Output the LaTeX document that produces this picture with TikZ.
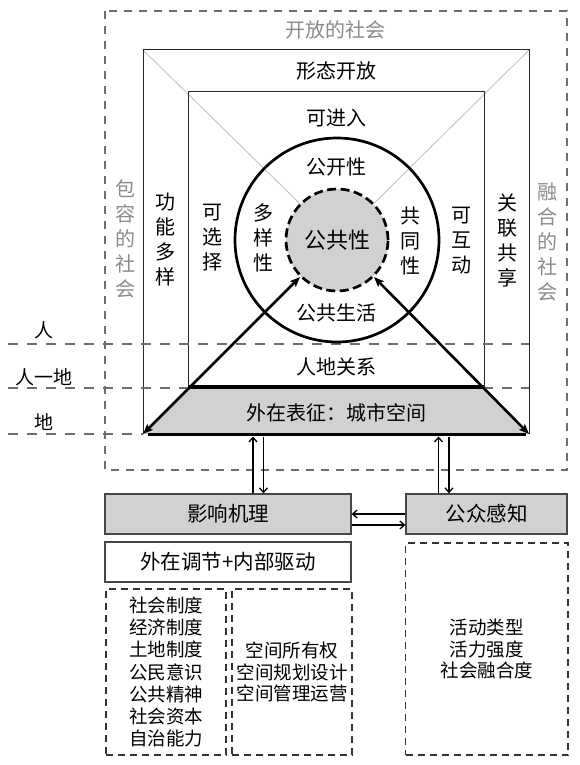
\documentclass[tikz,border=0pt]{standalone}
\usepackage{fontspec}
\setmainfont{Noto Sans CJK SC}
\usetikzlibrary{arrows.meta,calc}
\definecolor{fillg}{RGB}{208,209,211}
\definecolor{labg}{RGB}{138,138,138}
\definecolor{boxline}{RGB}{70,70,70}
\definecolor{diagc}{RGB}{190,190,190}
\definecolor{dashg}{RGB}{110,110,110}
\begin{document}
\begin{tikzpicture}[x=1pt,y=-1pt,
  txt/.style={inner sep=0pt, font=\fontsize{20}{24}\selectfont},
  gtxt/.style={txt, text=labg},
  vtxt/.style={inner sep=0pt, align=center, font=\fontsize{20}{25}\selectfont},
  gvtxt/.style={vtxt, text=labg},
  sidetxt/.style={inner sep=0pt, font=\fontsize{19}{24}\selectfont},
  sqline/.style={draw=black!85, line width=1pt},
  diagline/.style={draw=diagc, line width=0.8pt},
  levelline/.style={draw=dashg, line width=1.2pt, dash pattern=on 10pt off 9pt},
  thickarrow/.style={line width=2.6pt, {Stealth[length=10pt,width=8pt,inset=2pt]}-{Stealth[length=10pt,width=8pt,inset=2pt]}},
  thinarrow/.style={line width=1.3pt, -{Straight Barb[length=4.5pt,width=8pt]}},
  gbox/.style={draw=boxline, line width=1.3pt, fill=fillg, inner sep=0pt, font=\fontsize{20.5}{24}\selectfont},
  wbox/.style={draw=boxline, line width=1.3pt, fill=white, inner sep=0pt, font=\fontsize{20.5}{24}\selectfont},
  dbox/.style={draw=black!80, line width=1.2pt, dash pattern=on 7pt off 5pt, inner sep=0pt, align=center, font=\fontsize{18.5}{22.2}\selectfont}
]
\useasboundingbox (0,0) rectangle (579,765);

% outer dashed region
\draw[draw=dashg, line width=1.1pt, dash pattern=on 8pt off 7pt] (105,11) rectangle (567,470);
\node[gtxt] (kfsh) at (335,30) {开放的社会};

% named corner coordinates
\coordinate (ctr) at (337,240);
\coordinate (otl) at (143,50);
\coordinate (otr) at (529,50);
\coordinate (obl) at (143,434);
\coordinate (obr) at (529,434);
\coordinate (itl) at (188,92);
\coordinate (itr) at (484,92);
\coordinate (ibl) at (188,387);
\coordinate (ibr) at (484,387);

% diagonals
\draw[diagline] (otl) -- (ctr);
\draw[diagline] (otr) -- (ctr);

% squares
\draw[sqline] (obl) -- (otl) -- (otr) -- (obr);
\draw[sqline] (ibl) -- (itl) -- (itr) -- (ibr);

% level lines
\coordinate (l1a) at (8,344);  \coordinate (l1b) at (529,344);
\coordinate (l2a) at (8,388);  \coordinate (l2b) at (529,388);
\coordinate (l3a) at (8,434);
\draw[levelline] (l1a) -- (l1b);
\draw[levelline] (l2a) -- (l2b);
\draw[levelline] (l3a) -- (obl);

% trapezoid
\fill[fillg] (ibl) -- (ibr) -- (obr) -- (obl) -- cycle;
\draw[line width=3.3pt] (ibl) -- (ibr);
\draw[line width=3.3pt] ($(obl)+(5,0.5)$) -- ($(obr)+(-3,0.5)$);

% circles
\node[circle, draw, line width=2.7pt, minimum size=204pt, inner sep=0pt] (bigc) at (ctr) {};
\node[circle, draw, fill=fillg, line width=2.7pt, dash pattern=on 9pt off 4.5pt, minimum size=102pt, inner sep=0pt, font=\fontsize{22}{26}\selectfont] (innc) at (ctr) {公共性};

% thick arrows
\draw[thickarrow] (innc.225) -- (obl);
\draw[thickarrow] (innc.315) -- (obr);

% texts in square
\node[txt] (xtkf) at (336,71) {形态开放};
\node[txt] (kjr) at (336,118) {可进入};
\node[txt] (gkx) at (336,167) {公开性};
\node[txt] (ggsh) at (336,313) {公共生活};
\node[txt] (rdgx) at (336,367) {人地关系};
\node[txt] (wzbz) at (336,413) {外在表征：城市空间};
\node[vtxt] (dyx) at (263,238) {多\\样\\性};
\node[vtxt] (gtx) at (410,241) {共\\同\\性};
\node[vtxt] (kxz) at (212,238) {可\\选\\择};
\node[vtxt] (khd) at (461,241) {可\\互\\动};
\node[vtxt] (gndy) at (165,240) {功\\能\\多\\样};
\node[vtxt] (glgx) at (507,240) {关\\联\\共\\享};
\node[gvtxt] (brsh) at (125,239) {包\\容\\的\\社\\会};
\node[gvtxt] (rhsh) at (547,242) {融\\合\\的\\社\\会};

% level labels
\node[sidetxt] (lr) at (44,330) {人};
\node[sidetxt] (lrd) at (44,377) {人一地};
\node[sidetxt] (ld) at (44,422) {地};

% lower boxes
\node[gbox, minimum width=246pt, minimum height=40pt] (yxjl) at (228,514) {影响机理};
\node[gbox, minimum width=161pt, minimum height=40pt] (gzgz) at (486.5,514) {公众感知};
\node[wbox, minimum width=246pt, minimum height=40pt] (wztj) at (228,562) {外在调节+内部驱动};
\node[dbox, minimum width=120pt, minimum height=166pt] (dl) at (166,672) {社会制度\\经济制度\\土地制度\\公民意识\\公共精神\\社会资本\\自治能力};
\node[dbox, minimum width=120pt, minimum height=166pt, font=\fontsize{18.5}{21.5}\selectfont] (dm) at (292,672) {空间所有权\\空间规划设计\\空间管理运营};
\node[dbox, minimum width=162.5pt, minimum height=212pt, font=\fontsize{18.5}{21.5}\selectfont] (dr) at (486.75,649) {活动类型\\活力强度\\社会融合度};

% vertical arrows
\coordinate (u1) at (253,436.5);
\coordinate (d1) at (263.5,436.5);
\coordinate (u2) at (438.5,436.5);
\coordinate (d2) at (449,436.5);
\draw[thinarrow] (u1 |- yxjl.north) -- (u1);
\draw[thinarrow] (d1) -- (d1 |- yxjl.north);
\draw[thinarrow] (u2 |- gzgz.north) -- (u2);
\draw[thinarrow] (d2) -- (d2 |- gzgz.north);

% horizontal arrows
\draw[thinarrow] (gzgz.west) -- (yxjl.east);
\draw[thinarrow] ([yshift=-11pt]yxjl.east) -- ([yshift=-11pt]yxjl.east -| gzgz.west);
\end{tikzpicture}
\end{document}
